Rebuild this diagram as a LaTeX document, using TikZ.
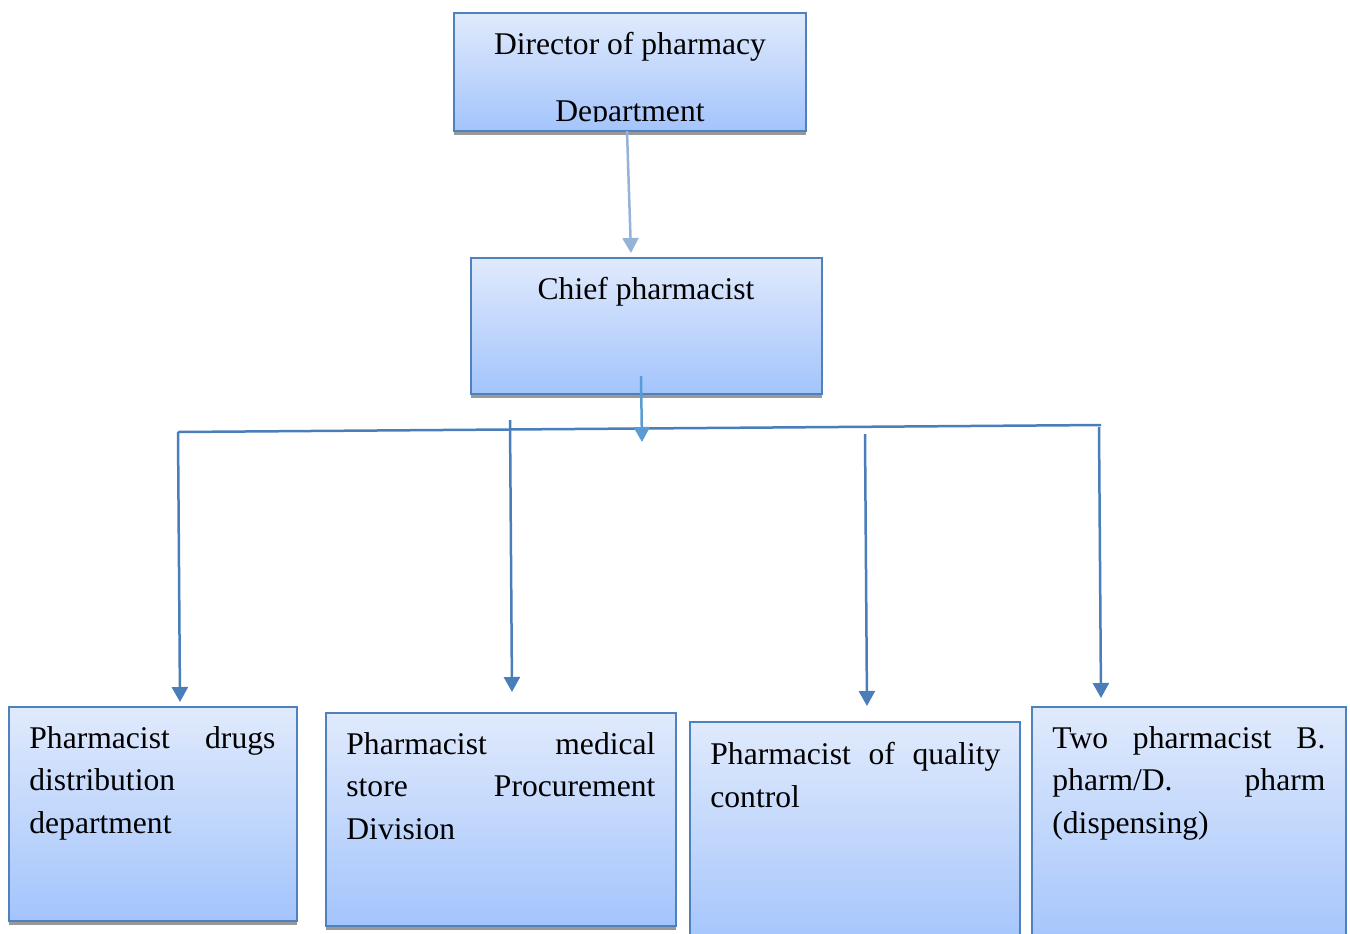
\documentclass[tikz,border=0pt]{standalone}
\usepackage{fontspec}
\setmainfont{Liberation Serif}
\usetikzlibrary{arrows.meta,shadows,calc}

\definecolor{boxtop}{HTML}{E0EAFC}
\definecolor{boxbot}{HTML}{A3C4FC}
\definecolor{edge}{HTML}{4F81BD}
\definecolor{paleline}{HTML}{95B3D7}
\definecolor{midline}{HTML}{5B9BD5}
\definecolor{busline}{HTML}{4A7EBB}

\begin{document}
\begin{tikzpicture}[
  x=0.5pt, y=-0.5pt,
  font=\fontsize{15.8}{21.25}\selectfont,
  unitbox/.style={draw=edge, line width=1pt, top color=boxtop, bottom color=boxbot, outer sep=0pt,
    drop shadow={shadow xshift=0pt, shadow yshift=-1.75pt, fill=black!40, opacity=1}},
  unittext/.style={anchor=north west, inner sep=0pt, align=left},
  feed/.style={-{Triangle[width=8pt,length=7.5pt]}, line width=1.25pt},
  link/.style={line width=1.25pt, draw=busline}
]
\useasboundingbox (0,0) rectangle (1350,933);

% top two levels
\node[unitbox, minimum width=176pt, minimum height=59pt] (dir) at (630,72) {};
\node[unitbox, minimum width=175.5pt, minimum height=68pt] (chief) at (646.5,326) {};
\begin{scope}
  \clip (454,13) rectangle (806,121);
  \node[anchor=north, inner sep=0pt, align=center] (dirtext) at (630,32)
    {Director of pharmacy\\[12pt]Department};
\end{scope}
\node[anchor=north, inner sep=0pt] (chieftext) at (646,277) {Chief pharmacist};

% bottom level
\node[unitbox, minimum width=144pt, minimum height=107pt] (drugs) at (153,814) {};
\node[unitbox, minimum width=175pt, minimum height=106.5pt] (store) at (501,819.5) {};
\node[unitbox, minimum width=165pt, minimum height=114pt] (quality) at (855,836) {};
\node[unitbox, minimum width=157pt, minimum height=121.5pt] (dispense) at (1189,828.5) {};

\node[unittext, text width=123pt] (drugstext) at (29,726)
  {Pharmacist \hfill drugs\\distribution\\department};
\node[unittext, text width=154.5pt] (storetext) at (346,732)
  {Pharmacist \hfill medical\\store \hfill Procurement\\Division};
\node[unittext, text width=145pt] (qualitytext) at (710,742)
  {Pharmacist \hfill of \hfill quality\\control};
\node[unittext, text width=136.5pt] (dispensetext) at (1052,726)
  {Two \hfill pharmacist \hfill B.\\pharm/D. \hfill pharm\\(dispensing)};

% bus and branch points
\coordinate (busL) at (178,432);
\coordinate (busR) at (1101,425);
\coordinate (t2) at (510,420);
\coordinate (t3) at (865,434);
\coordinate (t4) at (1099,427);

% connectors
\draw[feed, draw=paleline, fill=paleline] ([xshift=-1.5pt]dir.south) -- ([xshift=-7.75pt,yshift=2.5pt]chief.north);
\draw[link] (busL) -- (busR);
\draw[feed, draw=midline, fill=midline] ([xshift=-2.75pt,yshift=9pt]chief.south) -- ([xshift=-2.25pt,yshift=-24pt]chief.south);
\draw[feed, draw=busline, fill=busline] (busL) -- ([xshift=13.5pt,yshift=2.5pt]drugs.north);
\draw[feed, draw=busline, fill=busline] (t2) -- ([xshift=5.5pt,yshift=10.5pt]store.north);
\draw[feed, draw=busline, fill=busline] (t3) -- ([xshift=6pt,yshift=8pt]quality.north);
\draw[feed, draw=busline, fill=busline] (t4) -- ([xshift=-44pt,yshift=4.5pt]dispense.north);

\end{tikzpicture}
\end{document}
